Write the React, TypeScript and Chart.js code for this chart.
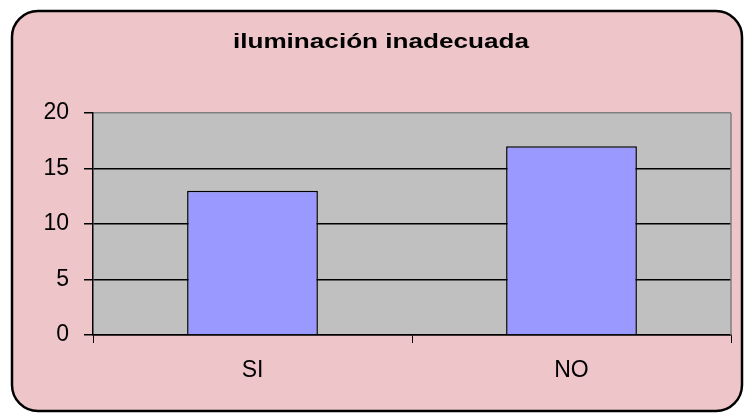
import React, { useEffect, useRef } from "react";
import { Chart, registerables } from "chart.js";

Chart.register(...registerables);

const categories = ["SI", "NO"];
const values = [13, 17];
const titleText = "iluminación inadecuada";
const yMin = 0;
const yMax = 20;
const yStep = 5;

const FONT = "'Liberation Sans', Arial, sans-serif";

const backgroundPlugin = {
  id: "bgPanel",
  beforeDraw(chart: any) {
    const { ctx, chartArea } = chart;
    ctx.save();
    const x = 12, y = 11, w = 730, h = 400, r = 26;
    ctx.beginPath();
    ctx.moveTo(x + r, y);
    ctx.lineTo(x + w - r, y);
    ctx.arcTo(x + w, y, x + w, y + r, r);
    ctx.lineTo(x + w, y + h - r);
    ctx.arcTo(x + w, y + h, x + w - r, y + h, r);
    ctx.lineTo(x + r, y + h);
    ctx.arcTo(x, y + h, x, y + h - r, r);
    ctx.lineTo(x, y + r);
    ctx.arcTo(x, y, x + r, y, r);
    ctx.closePath();
    ctx.fillStyle = "#EEC6CA";
    ctx.fill();
    ctx.lineWidth = 2.5;
    ctx.strokeStyle = "#000";
    ctx.stroke();
    // plot area
    ctx.fillStyle = "#C0C0C0";
    ctx.fillRect(chartArea.left, chartArea.top, chartArea.right - chartArea.left, chartArea.bottom - chartArea.top);
    // title (horizontally widened like the original)
    ctx.translate(381, 48);
    ctx.scale(1.34, 1);
    ctx.font = `bold 19.5px ${FONT}`;
    ctx.fillStyle = "#000";
    ctx.textAlign = "center";
    ctx.textBaseline = "alphabetic";
    ctx.fillText(titleText, 0, 0);
    ctx.restore();
  },
  afterDatasetsDraw(chart: any) {
    const { ctx, chartArea } = chart;
    ctx.save();
    ctx.strokeStyle = "#808080";
    ctx.lineWidth = 1.5;
    ctx.beginPath();
    ctx.moveTo(chartArea.right, chartArea.top);
    ctx.lineTo(chartArea.right, chartArea.bottom);
    ctx.stroke();
    ctx.restore();
  },
};

export default function App() {
  const ref = useRef<HTMLCanvasElement | null>(null);
  useEffect(() => {
    if (!ref.current) return;
    const chart = new Chart(ref.current, {
      type: "bar",
      data: {
        labels: categories,
        datasets: [
          {
            data: values,
            backgroundColor: "#9999FF",
            borderColor: "#000",
            borderWidth: 1.5,
            barPercentage: 0.41,
            categoryPercentage: 1,
          },
        ],
      },
      options: {
        animation: false,
        responsive: false,
        devicePixelRatio: 1,
        layout: { padding: { left: 27, right: 14, top: 113, bottom: 29 } },
        plugins: {
          legend: { display: false },
          tooltip: { enabled: false },
          title: { display: false },
        },
        scales: {
          x: {
            afterFit: (s: any) => {
              s.height = 50;
            },
            grid: {
              offset: true,
              drawOnChartArea: false,
              drawTicks: true,
              tickLength: 8,
              tickColor: "#000",
            },
            border: { color: "#000", width: 1.5 },
            ticks: {
              color: "#000",
              padding: 14,
              font: { family: FONT, size: 23 },
            },
          },
          y: {
            min: yMin,
            max: yMax,
            afterFit: (s: any) => {
              s.width = 66;
            },
            grid: {
              color: (c: any) => (c.tick && c.tick.value === yMax ? "#808080" : "#000"),
              lineWidth: 1.5,
              tickLength: 9,
              tickColor: "#000",
            },
            border: { color: "#000", width: 1.5 },
            ticks: {
              stepSize: yStep,
              color: "#000",
              padding: 15,
              font: { family: FONT, size: 23 },
            },
          },
        },
      },
      plugins: [backgroundPlugin],
    } as any);
    return () => chart.destroy();
  }, []);
  return (
    <div style={{ position: "absolute", left: 0, top: 0, width: 745, height: 414 }}>
      <canvas ref={ref} width={745} height={414} style={{ display: "block" }} />
    </div>
  );
}
